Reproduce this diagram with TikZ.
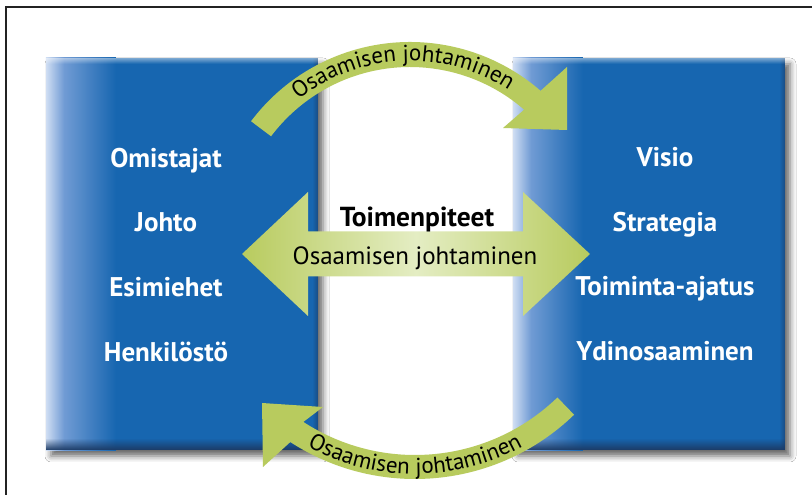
\documentclass[tikz,border=0pt]{standalone}
\usepackage{fontspec}
\setmainfont{PT Sans}
\usetikzlibrary{shadows.blur,decorations.text,fadings}
\definecolor{boxblue}{RGB}{23,102,176}
\definecolor{boxlight}{RGB}{208,222,243}
\definecolor{boxmid}{RGB}{112,155,212}
\definecolor{boxdark}{RGB}{28,58,100}
\definecolor{arrgreen}{RGB}{184,203,94}
\definecolor{arrlight}{RGB}{228,237,195}
\definecolor{framegray}{RGB}{35,35,35}
\pgfdeclarehorizontalshading{panelshade}{100bp}{color(0bp)=(boxlight); color(25bp)=(boxlight); color(38bp)=(boxmid); color(75bp)=(boxblue); color(100bp)=(boxblue)}
\tikzfading[name=fadeup, top color=transparent!100, bottom color=transparent!0]
\tikzfading[name=fadedown, top color=transparent!0, bottom color=transparent!100]
\tikzfading[name=faderight, left color=transparent!100, right color=transparent!0]
\begin{document}
\begin{tikzpicture}[x=1pt,y=1pt,
  panel/.style={minimum width=272pt, minimum height=392pt, inner sep=0pt, fill=boxblue,
    blur shadow={shadow xshift=5pt, shadow yshift=-6pt, shadow blur radius=6pt, shadow opacity=60}},
  whitelabel/.style={text=white, font=\fontsize{27}{32}\selectfont\bfseries, anchor=base, inner sep=0pt},
  blacklabel/.style={text=black, font=\fontsize{25}{30}\selectfont, anchor=base, inner sep=0pt},
  boldlabel/.style={text=black, font=\fontsize{27.5}{32}\selectfont\bfseries, anchor=base, inner sep=0pt},
  arcarrow/.style={fill=arrgreen},
  arctext/.style={decorate, decoration={text along path, text align=center, text={|\fontsize{23}{23}\selectfont|Osaamisen johtaminen}}},
]
\useasboundingbox (0,0) rectangle (812,495);
\fill[white] (0,0) rectangle (812,495);
\draw[line width=2pt, color=framegray] (6,0) -- (6,488) -- (812,488);

% panels
\node[panel] (L) at (182,241) {};
\node[panel] (R) at (649,241) {};
\foreach \b in {L,R} {
  \shade[shading=panelshade] (\b.south west) rectangle ([xshift=70pt]\b.north west);
  \fill[boxdark, path fading=faderight, opacity=.6] ([xshift=-6pt]\b.south east) rectangle (\b.north east);
  \fill[boxdark, path fading=fadeup] (\b.south west) rectangle ([yshift=12pt]\b.south east);
  \fill[white, path fading=fadedown, opacity=.45] ([yshift=-6pt]\b.north west) rectangle (\b.north east);
}

% middle double arrow
\shade[left color=arrgreen, right color=arrgreen, middle color=arrlight]
  (242,241) -- (308,303) -- (308,263.5) -- (523,263.5) -- (523,303) -- (590,241)
  -- (523,179) -- (523,218.5) -- (308,218.5) -- (308,179) -- cycle;

% top curved arrow
\fill[arcarrow] ([shift={(143:199)}]410,254) arc[start angle=143, end angle=49, radius=199]
  -- (567,428) -- (567,365) -- (503,367)
  -- ([shift={(49:174)}]410,254) arc[start angle=49, end angle=143, radius=174] -- cycle;
\path[arctext] ([shift={(160:180)}]410,254) arc[start angle=160, end angle=25, radius=180];

% bottom curved arrow
\fill[arcarrow] ([shift={(314:229)}]415,245) arc[start angle=314, end angle=237, radius=229]
  -- (263,28) -- (262,92) -- (323,88)
  -- ([shift={(237:205)}]415,245) arc[start angle=237, end angle=314, radius=205] -- cycle;
\path[arctext] ([shift={(215:224)}]415,245) arc[start angle=215, end angle=325, radius=224];

% labels
\node[whitelabel] (l1) at (166,327) {Omistajat};
\node[whitelabel] (l2) at (166,263) {Johto};
\node[whitelabel] (l3) at (166,198) {Esimiehet};
\node[whitelabel] (l4) at (166,133) {Henkilöstö};
\node[whitelabel] (r1) at (665,328) {Visio};
\node[whitelabel] (r2) at (665,263) {Strategia};
\node[whitelabel] (r3) at (665,199) {Toiminta-ajatus};
\node[whitelabel] (r4) at (665,134) {Ydinosaaminen};
\node[boldlabel] (mt) at (417,268) {Toimenpiteet};
\node[blacklabel] (mo) at (415,230) {Osaamisen johtaminen};
\end{tikzpicture}
\end{document}
